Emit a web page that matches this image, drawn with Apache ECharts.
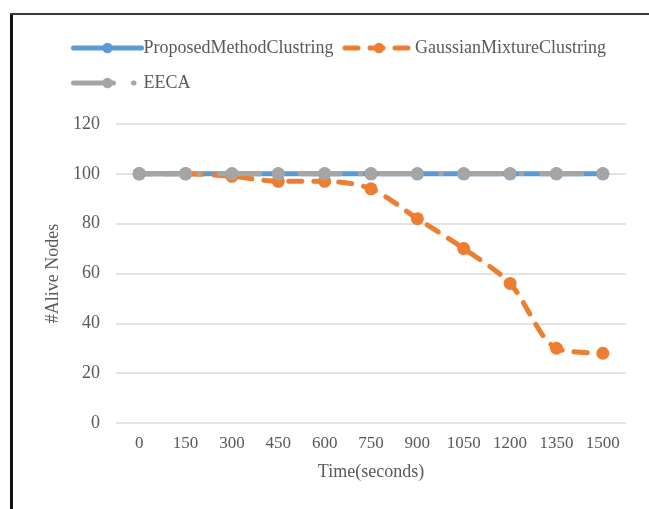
<!DOCTYPE html>
<html>
<head>
<meta charset="utf-8">
<script src="https://cdn.jsdelivr.net/npm/echarts@6/dist/echarts.min.js"></script>
<style>
  html, body { margin: 0; padding: 0; background: #fff; }
  #chart { width: 649px; height: 509px; }
</style>
</head>
<body>
<div id="chart"></div>
<script>
// Simulation time steps (seconds)
const timeSteps = ['0', '150', '300', '450', '600', '750', '900', '1050', '1200', '1350', '1500'];

// Number of alive nodes per method
const proposedAlive = [100, 100, 100, 100, 100, 100, 100, 100, 100, 100, 100];
const gaussianAlive = [100, 100, 99, 97, 97, 94, 82, 70, 56, 30, 28];
const eecaAlive     = [100, 100, 100, 100, 100, 100, 100, 100, 100, 100, 100];

const seriesNames = ['ProposedMethodClustring', 'GaussianMixtureClustring', 'EECA'];

const FONT = '"Liberation Serif", "Times New Roman", serif';
const TEXT = '#595959';

const chart = echarts.init(document.getElementById('chart'), null, { renderer: 'canvas' });

const legendBase = {
  left: 66,
  itemWidth: 68,
  itemHeight: 13,
  itemGap: 9,
  lineStyle: { width: 5, cap: 'round' },
  textStyle: { fontFamily: FONT, fontSize: 18, color: TEXT, padding: [0, 0, 0, -3] }
};

chart.setOption({
  backgroundColor: '#ffffff',
  animation: false,
  graphic: [
    { type: 'line', shape: { x1: 11.5, y1: 13, x2: 11.5, y2: 509 }, style: { stroke: '#111', lineWidth: 3 } },
    { type: 'line', shape: { x1: 10, y1: 14, x2: 649, y2: 14 }, style: { stroke: '#3a3a3a', lineWidth: 2 } }
  ],
  legend: [
    Object.assign({}, legendBase, { top: 34, data: [seriesNames[0], seriesNames[1]] }),
    Object.assign({}, legendBase, { top: 69, data: [seriesNames[2]] })
  ],
  grid: { left: 116, right: 23, top: 124, bottom: 86, containLabel: false },
  xAxis: {
    type: 'category',
    data: timeSteps,
    boundaryGap: true,
    name: 'Time(seconds)',
    nameLocation: 'middle',
    nameGap: 40,
    nameTextStyle: { fontFamily: FONT, fontSize: 18, color: TEXT },
    axisLine: { show: false },
    axisTick: { show: false },
    axisLabel: { fontFamily: FONT, fontSize: 17, color: TEXT, margin: 12, interval: 0 }
  },
  yAxis: {
    type: 'value',
    min: 0,
    max: 120,
    interval: 20,
    name: '#Alive Nodes',
    nameLocation: 'middle',
    nameGap: 50,
    nameTextStyle: { fontFamily: FONT, fontSize: 18, color: TEXT },
    axisLine: { show: false },
    axisTick: { show: false },
    axisLabel: { fontFamily: FONT, fontSize: 18, color: TEXT, margin: 16 },
    splitLine: { lineStyle: { color: '#d9d9d9', width: 1.5 } }
  },
  series: [
    {
      name: seriesNames[0],
      type: 'line',
      data: proposedAlive,
      symbol: 'circle',
      symbolSize: 13,
      color: '#5b9bd5',
      lineStyle: { width: 5, color: '#5b9bd5' },
      itemStyle: { color: '#5b9bd5' },
      z: 2
    },
    {
      name: seriesNames[1],
      type: 'line',
      data: gaussianAlive,
      symbol: 'circle',
      symbolSize: 13,
      smooth: 0.3,
      color: '#ed7d31',
      lineStyle: { width: 5, color: '#ed7d31', type: [13, 12], cap: 'round' },
      itemStyle: { color: '#ed7d31' },
      z: 3
    },
    {
      name: seriesNames[2],
      type: 'line',
      data: eecaAlive,
      symbol: 'circle',
      symbolSize: 13,
      color: '#a5a5a5',
      lineStyle: { width: 5, color: '#a5a5a5', type: [40, 20, 0.5, 20], cap: 'round' },
      itemStyle: { color: '#a5a5a5' },
      z: 4
    }
  ]
});
</script>
</body>
</html>
